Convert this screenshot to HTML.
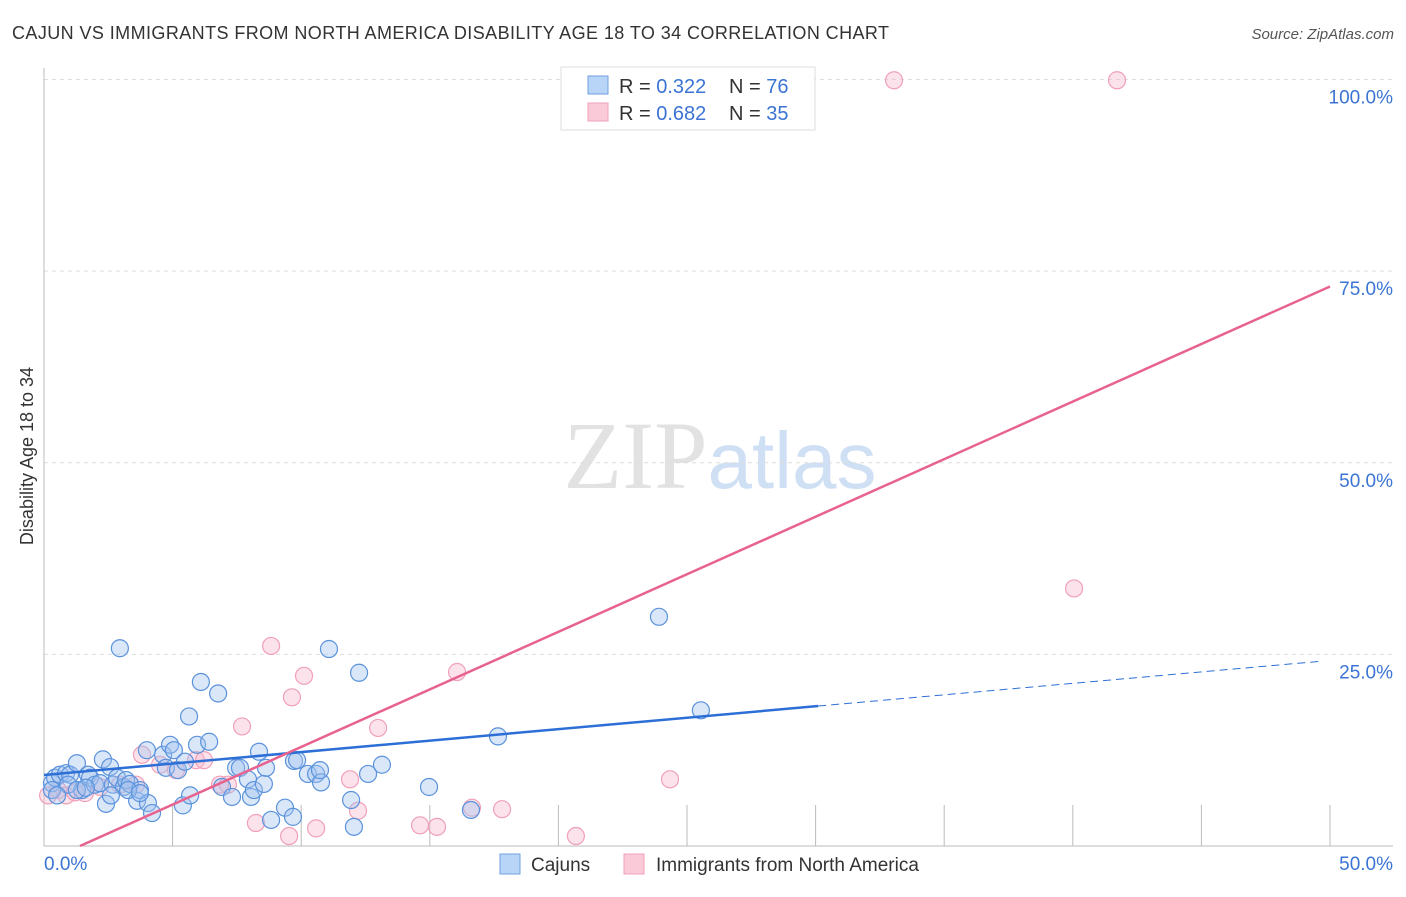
<!DOCTYPE html>
<html><head><meta charset="utf-8"><style>
body{margin:0;background:#fff;font-family:"Liberation Sans",sans-serif;}
svg text{font-family:"Liberation Sans",sans-serif;}
</style></head><body>
<svg id="chart" width="1406" height="892" viewBox="0 0 1406 892" xmlns="http://www.w3.org/2000/svg">
<text x="12" y="39" font-size="18" fill="#333" textLength="877" lengthAdjust="spacing">CAJUN VS IMMIGRANTS FROM NORTH AMERICA DISABILITY AGE 18 TO 34 CORRELATION CHART</text>
<text x="1394" y="39" font-size="15" fill="#555" text-anchor="end" font-style="italic">Source: ZipAtlas.com</text>
<text x="720" y="488" font-size="96" text-anchor="middle"><tspan fill="#e2e2e2" font-family="Liberation Serif">ZIP</tspan><tspan fill="#cfe0f4" font-size="80">atlas</tspan></text>
<g id="grid"></g>
<g id="axes"></g>
<g id="points"></g>
<g id="lines"></g>
<text transform="translate(33,456) rotate(-90)" font-size="18" fill="#333" text-anchor="middle">Disability Age 18 to 34</text>
<g>
<rect x="561" y="67" width="254" height="63" fill="#fff" stroke="#ddd"/>
<rect x="588" y="76" width="20" height="18" fill="#b8d4f6" stroke="#6fa0e0"/>
<rect x="588" y="103" width="20" height="18" fill="#fbcad8" stroke="#f0a0b8"/>
<text x="619" y="93" font-size="20" fill="#333">R = <tspan fill="#3b74d4">0.322</tspan></text>
<text x="729" y="93" font-size="20" fill="#333">N = <tspan fill="#3b74d4">76</tspan></text>
<text x="619" y="120" font-size="20" fill="#333">R = <tspan fill="#3b74d4">0.682</tspan></text>
<text x="729" y="120" font-size="20" fill="#333">N = <tspan fill="#3b74d4">35</tspan></text>
</g>
<g>
<rect x="500" y="854" width="20" height="20" fill="#b8d4f6" stroke="#6fa0e0"/>
<text x="531" y="871" font-size="19" fill="#333">Cajuns</text>
<rect x="624" y="854" width="20" height="20" fill="#fbcad8" stroke="#f0a0b8"/>
<text x="656" y="871" font-size="19" fill="#333">Immigrants from North America</text>
</g>
</svg>
<script>
const yTicks=[25,50,75,100];
const yTickLabels=["25.0%","50.0%","75.0%","100.0%"];
const xTicks=[5,10,15,20,25,30,35,40,45,50];
const blueX=[0.31,0.43,0.62,0.86,1.01,1.28,1.48,1.71,1.79,1.98,2.18,2.29,2.41,2.57,2.68,2.84,2.95,3.11,3.19,3.34,3.62,3.73,4.04,4.20,4.00,4.63,4.74,4.90,5.05,5.21,5.40,5.48,5.64,5.68,5.95,6.10,6.42,6.77,6.92,7.31,7.47,7.62,7.93,8.05,8.16,8.36,8.55,8.63,8.83,9.37,9.68,9.72,9.84,10.26,10.58,10.77,10.73,11.08,11.94,12.05,12.25,12.60,13.14,14.97,16.60,17.65,23.91,25.54,0.31,0.93,1.28,1.63,3.27,3.73,2.60,0.51];
const blueY=[8.2,8.9,9.3,9.5,9.3,10.8,7.3,9.3,8.9,8.0,8.2,11.3,5.5,10.3,8.0,8.9,25.8,7.7,8.6,8.1,5.9,7.3,5.6,4.3,12.5,11.9,10.2,13.2,12.5,9.9,5.3,11.0,16.9,6.6,13.2,21.4,13.6,19.9,7.7,6.4,10.2,10.2,8.7,6.4,7.3,12.3,8.1,10.2,3.4,5.0,3.8,11.1,11.2,9.4,9.4,8.3,9.9,25.7,6.0,2.5,22.6,9.4,10.6,7.7,4.7,14.3,29.9,17.7,7.3,8.0,7.3,7.6,7.3,6.9,6.6,6.6];
const pinkX=[0.16,0.54,0.86,1.21,1.59,2.95,3.81,4.51,5.13,5.91,6.22,6.84,7.15,7.70,8.24,8.83,9.53,9.64,10.11,10.58,11.90,12.21,12.99,14.62,15.28,16.06,16.64,17.81,20.68,24.34,33.05,41.72,40.05,2.18,3.58];
const pinkY=[6.6,7.3,6.6,7.0,6.9,8.0,11.9,10.6,9.9,11.2,11.2,8.0,8.0,15.6,3.0,26.1,1.3,19.4,22.2,2.3,8.7,4.6,15.4,2.7,2.5,22.7,5.0,4.8,1.3,8.7,99.9,99.9,33.6,7.7,8.0];
const blueLine={intercept:9.26,slope:0.299,solidEnd:30.1,end:49.7};
const pinkLine={intercept:-2.1,slope:1.502,start:1.4,end:50};
const NS="http://www.w3.org/2000/svg";
const X=v=>44+v*25.72, Y=v=>846-v*7.665;
function mk(parent,tag,attrs){const e=document.createElementNS(NS,tag);for(const k in attrs)e.setAttribute(k,attrs[k]);document.getElementById(parent).appendChild(e);return e;}
let e;
yTicks.forEach((t,i)=>{
 e=mk('grid','line',{x1:44,x2:1393,y1:Y(t),y2:Y(t),stroke:'#ddd','stroke-dasharray':'4,4'});
 
 
 e=mk('grid','text',{x:1393,y:Y(t)+24,'font-size':19,fill:'#3b74d4','text-anchor':'end'});e.textContent=yTickLabels[i];
 
 
});
e=mk('axes','line',{x1:44,x2:44,y1:68,y2:846,stroke:'#bbb'});


e=mk('axes','line',{x1:44,x2:1393,y1:846,y2:846,stroke:'#bbb'});


xTicks.forEach(t=>{
 e=mk('axes','line',{x1:X(t),x2:X(t),y1:805,y2:846,stroke:'#bbb'});
 
 
});
e=mk('axes','text',{x:44,y:870,'font-size':19,fill:'#3b74d4'});e.textContent='0.0%';


e=mk('axes','text',{x:1393,y:870,'font-size':19,fill:'#3b74d4','text-anchor':'end'});e.textContent='50.0%';


pinkX.forEach((x,i)=>{
 e=mk('points','circle',{cx:X(x),cy:Y(pinkY[i]),r:8.5,fill:'rgba(248,185,205,0.4)',stroke:'#f0a0b8','stroke-width':1.2});
 
 
});
blueX.forEach((x,i)=>{
 e=mk('points','circle',{cx:X(x),cy:Y(blueY[i]),r:8.5,fill:'rgba(160,196,240,0.4)',stroke:'#5b92dc','stroke-width':1.2});
 
 
});
const bl=x=>blueLine.intercept+blueLine.slope*x, pl=x=>pinkLine.intercept+pinkLine.slope*x;
e=mk('lines','line',{x1:X(0),y1:Y(bl(0)),x2:X(blueLine.solidEnd),y2:Y(bl(blueLine.solidEnd)),stroke:'#2d6fd6','stroke-width':2.5});


e=mk('lines','line',{x1:X(blueLine.solidEnd),y1:Y(bl(blueLine.solidEnd)),x2:X(blueLine.end),y2:Y(bl(blueLine.end)),stroke:'#2d6fd6','stroke-width':1,'stroke-dasharray':'8,5'});


e=mk('lines','line',{x1:X(pinkLine.start),y1:Y(pl(pinkLine.start)),x2:X(pinkLine.end),y2:Y(pl(pinkLine.end)),stroke:'#e8628f','stroke-width':2.5});


</script>
</body></html>
